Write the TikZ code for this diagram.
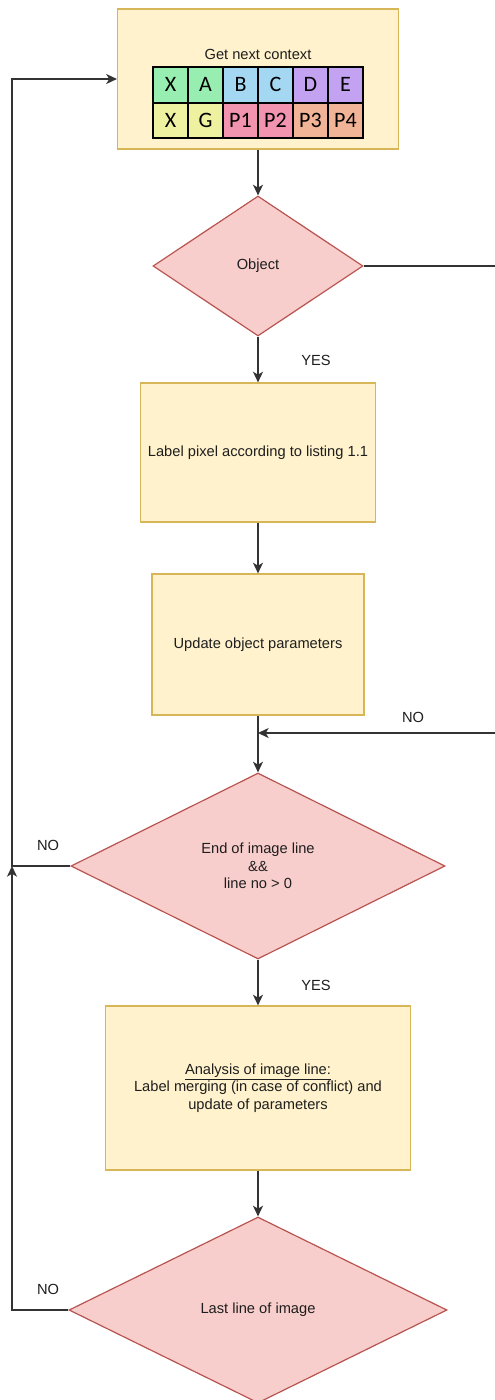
\documentclass[tikz,border=0pt]{standalone}
\usepackage{fontspec}
\setmainfont{Liberation Sans}
\newfontfamily\cellfont{Carlito}
\usetikzlibrary{shapes.geometric,arrows.meta}

\definecolor{procfill}{HTML}{FFF2CC}
\definecolor{procline}{HTML}{D6B656}
\definecolor{decfill}{HTML}{F8CECC}
\definecolor{decline}{HTML}{B85450}
\definecolor{wire}{HTML}{333333}
\definecolor{ink}{HTML}{1E1E1E}
\definecolor{cgreen}{HTML}{98EEB0}
\definecolor{cblue}{HTML}{A4D8F2}
\definecolor{cpurple}{HTML}{C4A2F2}
\definecolor{cyellow}{HTML}{EEF2A0}
\definecolor{cpink}{HTML}{F294B0}
\definecolor{corange}{HTML}{F2B496}

\newdimen\pxu
\pxu=0.75pt

\tikzset{
  procbox/.style={draw=procline, fill=procfill, line width=1.2\pxu,
    inner sep=0pt, align=center, text=ink, font=\fontsize{11}{13.2}\selectfont},
  decbox/.style={draw=decline, fill=decfill, line width=1.2\pxu, shape=diamond,
    inner sep=0pt, align=center, text=ink, font=\fontsize{11}{13.2}\selectfont},
  cell/.style={draw=black, line width=2\pxu, minimum width=35\pxu,
    minimum height=35.5\pxu, inner sep=0pt, text=black,
    font=\cellfont\fontsize{16.5}{17}\selectfont},
  wirelabel/.style={text=ink, font=\fontsize{11}{13}\selectfont, inner sep=0pt},
  arr/.style={draw=wire, line width=1.1pt,
    -{Stealth[length=8pt, width=7.5pt, inset=2.2pt]}},
}

\begin{document}
\begin{tikzpicture}[x=0.75pt, y=-0.75pt]
\useasboundingbox (0,0) rectangle (495,1400);

% process steps and decisions
\node[procbox, minimum width=281\pxu, minimum height=140\pxu] (ctx) at (258,79) {};
\node[text=ink, font=\fontsize{11}{13}\selectfont, inner sep=0pt] (ctxtitle) at (258,54) {Get next context};

\node[decbox, minimum width=210\pxu, minimum height=140\pxu] (obj) at (258,266) {Object};

\node[procbox, minimum width=235\pxu, minimum height=139\pxu] (lab) at (258,452.5)
  {Label pixel according to listing 1.1};

\node[procbox, minimum width=212\pxu, minimum height=141\pxu] (upd) at (258,644.5)
  {Update object parameters};

\node[decbox, minimum width=374\pxu, minimum height=186\pxu] (eol) at (258,866)
  {End of image line\\\&\&\\line no \textgreater{} 0};

\node[procbox, minimum width=305\pxu, minimum height=164\pxu] (ana) at (258,1088)
  {\underline{Analysis of image line:}\\Label merging (in case of conflict) and\\update of parameters};

\node[decbox, minimum width=378\pxu, minimum height=186\pxu] (last) at (258,1310)
  {Last line of image};

% context table
\node[cell, fill=cgreen]  (c11) at (170.5,84.75) {X};
\node[cell, fill=cgreen]  (c12) at (205.5,84.75) {A};
\node[cell, fill=cblue]   (c13) at (240.5,84.75) {B};
\node[cell, fill=cblue]   (c14) at (275.5,84.75) {C};
\node[cell, fill=cpurple] (c15) at (310.5,84.75) {D};
\node[cell, fill=cpurple] (c16) at (345.5,84.75) {E};
\node[cell, fill=cyellow] (c21) at (170.5,120.25) {X};
\node[cell, fill=cyellow] (c22) at (205.5,120.25) {G};
\node[cell, fill=cpink]   (c23) at (240.5,120.25) {P1};
\node[cell, fill=cpink]   (c24) at (275.5,120.25) {P2};
\node[cell, fill=corange] (c25) at (310.5,120.25) {P3};
\node[cell, fill=corange] (c26) at (345.5,120.25) {P4};

% branch labels
\node[wirelabel] (yes1) at (316,360) {YES};
\node[wirelabel] (no1)  at (413,717) {NO};
\node[wirelabel] (no2)  at (48,845) {NO};
\node[wirelabel] (yes2) at (316,985) {YES};
\node[wirelabel] (no3)  at (48,1289) {NO};

% junction points
\coordinate (join) at (258,733);
\coordinate (lj) at (12,866);

% main flow
\draw[arr] (ctx) -- (obj);
\draw[arr] (obj) -- (lab);
\draw[arr] (lab) -- (upd);
\draw[arr] (upd) -- (eol);
\draw[arr] (eol) -- (ana);
\draw[arr] (ana) -- (last);

% loops
\draw[arr] (obj.east) -- (505,266) -- (505,733) -- (join);
\draw[arr] (eol.west) -- (lj) |- (ctx.west);
\draw[arr] (last.west) -- (12,1310) -- (lj);
\end{tikzpicture}
\end{document}
